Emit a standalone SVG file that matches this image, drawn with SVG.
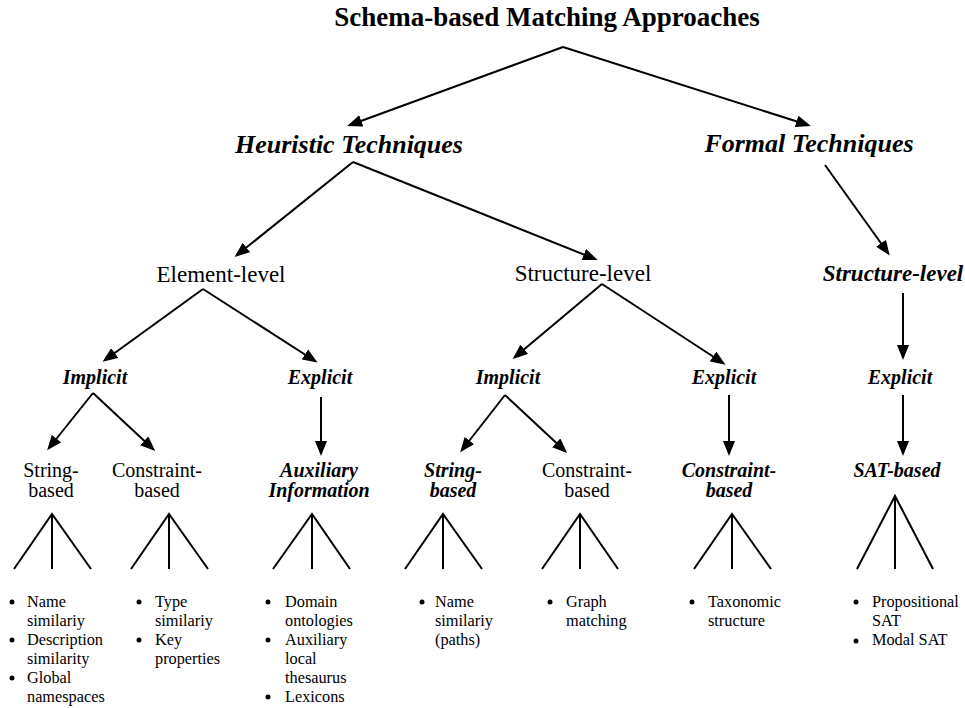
<svg xmlns="http://www.w3.org/2000/svg" width="965" height="708" viewBox="0 0 965 708">
<style>
text{font-family:"Liberation Serif","Times New Roman",serif;fill:#000}
.t0{font-size:27px;font-weight:bold;text-anchor:middle}
.t1{font-size:26px;font-weight:bold;font-style:italic;text-anchor:middle}
.t2{font-size:23px;text-anchor:middle}
.t2b{font-size:23px;font-weight:bold;font-style:italic;text-anchor:middle}
.t3{font-size:20px;font-weight:bold;font-style:italic;text-anchor:middle}
.t4{font-size:20px;text-anchor:middle}
.li{font-size:16.3px}
.a{stroke:#000;stroke-width:2;fill:none;marker-end:url(#ah)}
.f{stroke:#000;stroke-width:2;fill:none}
.b{fill:#000}
</style>
<defs>
<marker id="ah" markerUnits="userSpaceOnUse" markerWidth="15" markerHeight="12" viewBox="0 0 15 12" refX="12" refY="6" orient="auto">
<path d="M0,0 L15,6 L0,12 z" fill="#000"/>
</marker>
</defs>
<rect width="965" height="708" fill="#fff"/>
<g id="connectors">
<line class="a" x1="563" y1="47" x2="350" y2="125"/>
<line class="a" x1="563" y1="47" x2="808" y2="125"/>
<line class="a" x1="353" y1="162" x2="237" y2="255"/>
<line class="a" x1="353" y1="162" x2="595" y2="259"/>
<line class="a" x1="825" y1="165" x2="888" y2="253"/>
<line class="a" x1="203" y1="289" x2="105" y2="360"/>
<line class="a" x1="203" y1="289" x2="315" y2="361"/>
<line class="a" x1="602" y1="284" x2="515" y2="357"/>
<line class="a" x1="602" y1="284" x2="723" y2="363"/>
<line class="a" x1="903" y1="293" x2="903" y2="357"/>
<line class="a" x1="93" y1="393" x2="49" y2="448"/>
<line class="a" x1="93" y1="393" x2="153" y2="449"/>
<line class="a" x1="321" y1="397" x2="321" y2="453"/>
<line class="a" x1="505" y1="395" x2="462" y2="450"/>
<line class="a" x1="505" y1="395" x2="565" y2="451"/>
<line class="a" x1="729" y1="395" x2="729" y2="453"/>
<line class="a" x1="903" y1="395" x2="903" y2="453"/>
<path class="f" d="M14,569 L52,514 L91,569 M52,514 V569"/>
<path class="f" d="M131,569 L169,514 L208,569 M169,514 V569"/>
<path class="f" d="M273,569 L312,514 L350,569 M312,514 V569"/>
<path class="f" d="M405,569 L443,514 L482,569 M443,514 V569"/>
<path class="f" d="M542,569 L580,514 L618,569 M580,514 V569"/>
<path class="f" d="M694,569 L732,514 L771,569 M732,514 V569"/>
<path class="f" d="M857,569 L895,496 L933,569 M895,496 V569"/>
</g>
<g id="n-root"><text class="t0" x="547" y="26">Schema-based Matching Approaches</text></g>
<g id="n-heuristic"><text class="t1" x="349" y="153">Heuristic Techniques</text></g>
<g id="n-formal"><text class="t1" x="809" y="152">Formal Techniques</text></g>
<g id="n-element"><text class="t2" x="221" y="282">Element-level</text></g>
<g id="n-structure"><text class="t2" x="583" y="281">Structure-level</text></g>
<g id="n-fstructure"><text class="t2b" x="893" y="281">Structure-level</text></g>
<g id="n-e-implicit"><text class="t3" x="95" y="384">Implicit</text></g>
<g id="n-e-explicit"><text class="t3" x="320" y="384">Explicit</text></g>
<g id="n-s-implicit"><text class="t3" x="508" y="384">Implicit</text></g>
<g id="n-s-explicit"><text class="t3" x="724" y="384">Explicit</text></g>
<g id="n-f-explicit"><text class="t3" x="900" y="384">Explicit</text></g>
<g id="n-e-string"><text class="t4" x="51" y="477">String-</text><text class="t4" x="51" y="497">based</text></g>
<g id="n-e-constraint"><text class="t4" x="157" y="477">Constraint-</text><text class="t4" x="157" y="497">based</text></g>
<g id="n-aux"><text class="t3" x="319" y="477">Auxiliary</text><text class="t3" x="319" y="497">Information</text></g>
<g id="n-s-string"><text class="t3" x="453" y="477">String-</text><text class="t3" x="453" y="497">based</text></g>
<g id="n-s-constraint"><text class="t4" x="587" y="477">Constraint-</text><text class="t4" x="587" y="497">based</text></g>
<g id="n-s-constraint2"><text class="t3" x="729" y="477">Constraint-</text><text class="t3" x="729" y="497">based</text></g>
<g id="n-sat"><text class="t3" x="897" y="477">SAT-based</text></g>
<g id="l1">
<circle class="b" cx="12" cy="602" r="2.5"/><circle class="b" cx="12" cy="640" r="2.5"/><circle class="b" cx="12" cy="678" r="2.5"/>
<text class="li" x="27" y="607">Name</text><text class="li" x="27" y="626">similariy</text><text class="li" x="27" y="645">Description</text><text class="li" x="27" y="664">similarity</text><text class="li" x="27" y="683">Global</text><text class="li" x="27" y="702">namespaces</text>
</g>
<g id="l2">
<circle class="b" cx="139" cy="602" r="2.5"/><circle class="b" cx="139" cy="640" r="2.5"/>
<text class="li" x="155" y="607">Type</text><text class="li" x="155" y="626">similariy</text><text class="li" x="155" y="645">Key</text><text class="li" x="155" y="664">properties</text>
</g>
<g id="l3">
<circle class="b" cx="268" cy="602" r="2.5"/><circle class="b" cx="268" cy="640" r="2.5"/><circle class="b" cx="268" cy="697" r="2.5"/>
<text class="li" x="285" y="607">Domain</text><text class="li" x="285" y="626">ontologies</text><text class="li" x="285" y="645">Auxiliary</text><text class="li" x="285" y="664">local</text><text class="li" x="285" y="683">thesaurus</text><text class="li" x="285" y="702">Lexicons</text>
</g>
<g id="l4">
<circle class="b" cx="422" cy="602" r="2.5"/>
<text class="li" x="435" y="607">Name</text><text class="li" x="435" y="626">similariy</text><text class="li" x="435" y="645">(paths)</text>
</g>
<g id="l5">
<circle class="b" cx="550" cy="602" r="2.5"/>
<text class="li" x="566" y="607">Graph</text><text class="li" x="566" y="626">matching</text>
</g>
<g id="l6">
<circle class="b" cx="692" cy="602" r="2.5"/>
<text class="li" x="708" y="607">Taxonomic</text><text class="li" x="708" y="626">structure</text>
</g>
<g id="l7">
<circle class="b" cx="856" cy="602" r="2.5"/><circle class="b" cx="856" cy="641" r="2.5"/>
<text class="li" x="872" y="607">Propositional</text><text class="li" x="872" y="626">SAT</text><text class="li" x="872" y="645">Modal SAT</text>
</g>
</svg>
